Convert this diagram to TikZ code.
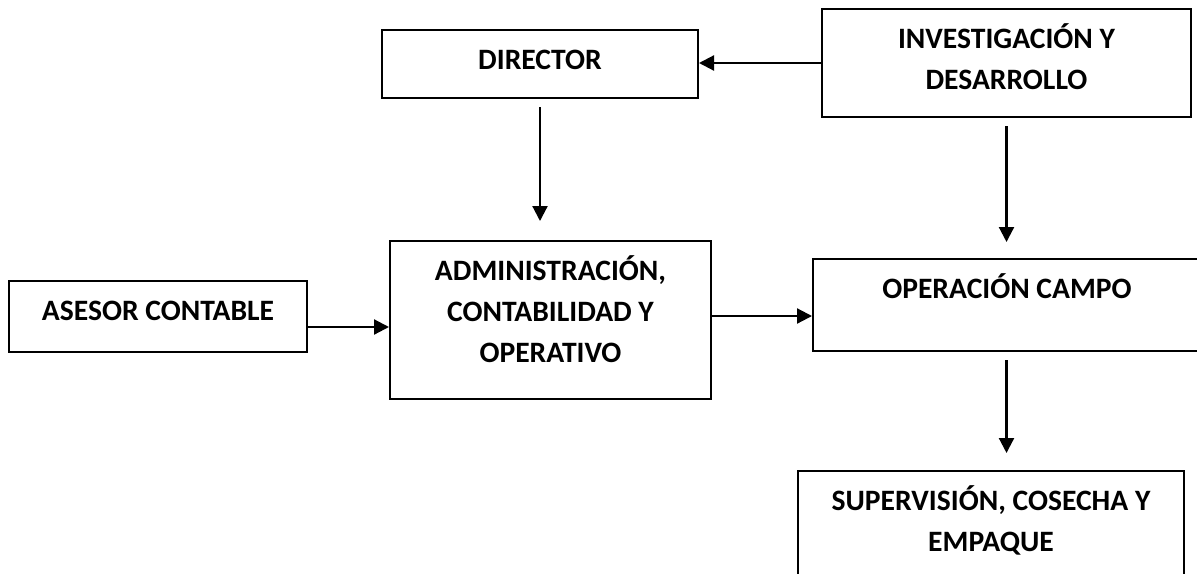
\documentclass[tikz,border=0pt]{standalone}
\usepackage{fontspec}
\setmainfont{Carlito}
\usepackage{tikz}
\usetikzlibrary{arrows.meta, positioning}

\begin{document}
\begin{tikzpicture}[x=0.5pt, y=-0.5pt,
  box/.style={draw, line width=1pt, inner sep=0pt},
  boxtext/.style={anchor=base, yshift={-20pt-(#1-1)*20.5pt}, align=center,
    font=\bfseries\fontsize{14.8}{20.5}\selectfont},
  boxtext/.default=1,
  flow/.style={-{Triangle[length=7.5pt, width=7.5pt]}, line width=1.1pt}]
  \useasboundingbox (0,0) rectangle (1197,573);
  \clip (0,0) rectangle (1197,573);
  % top row
  \node[box, minimum width=158pt, minimum height=34pt,
    label={[boxtext, name=dir-t]north:DIRECTOR}] (dir) at (540,64) {};
  \node[box, minimum width=184.5pt, minimum height=54pt,
    label={[boxtext=2, name=inv-t]north:INVESTIGACIÓN Y\\DESARROLLO}] (inv) at (1006.5,63) {};
  % middle row
  \node[box, minimum width=149pt, minimum height=35.5pt,
    label={[boxtext, name=ase-t]north:ASESOR CONTABLE}] (ase) at (158,316.5) {};
  \node[box, minimum width=160.5pt, minimum height=79pt,
    label={[boxtext=3, name=adm-t]north:ADMINISTRACIÓN,\\CONTABILIDAD Y\\OPERATIVO}] (adm) at (550.5,320) {};
  \node[box, minimum width=194pt, minimum height=46pt,
    label={[boxtext, name=ope-t]north:OPERACIÓN CAMPO}] (ope) at (1007,305) {};
  % bottom
  \node[box, minimum width=193pt, minimum height=64.5pt,
    label={[boxtext=2, name=sup-t]north:SUPERVISIÓN, COSECHA Y\\EMPAQUE}] (sup) at (991,535.5) {};
  % arrows
  \draw[flow] (inv.west) -- (inv.west -| dir.east);
  \draw[flow, shorten <=4pt, shorten >=9.5pt] (dir.south) -- (dir.south |- adm.north);
  \draw[flow] ([yshift=-5.25pt]ase.east) -- ([yshift=-5.25pt]ase.east -| adm.west);
  \draw[flow] ([yshift=2pt]adm.east) -- ([yshift=2pt]adm.east -| ope.west);
  \draw[flow, shorten <=4pt, shorten >=8pt] (inv.south) -- (inv.south |- ope.north);
  \draw[flow, shorten <=4pt, shorten >=8.5pt] (inv.south |- ope.south) -- (inv.south |- sup.north);
\end{tikzpicture}
\end{document}
